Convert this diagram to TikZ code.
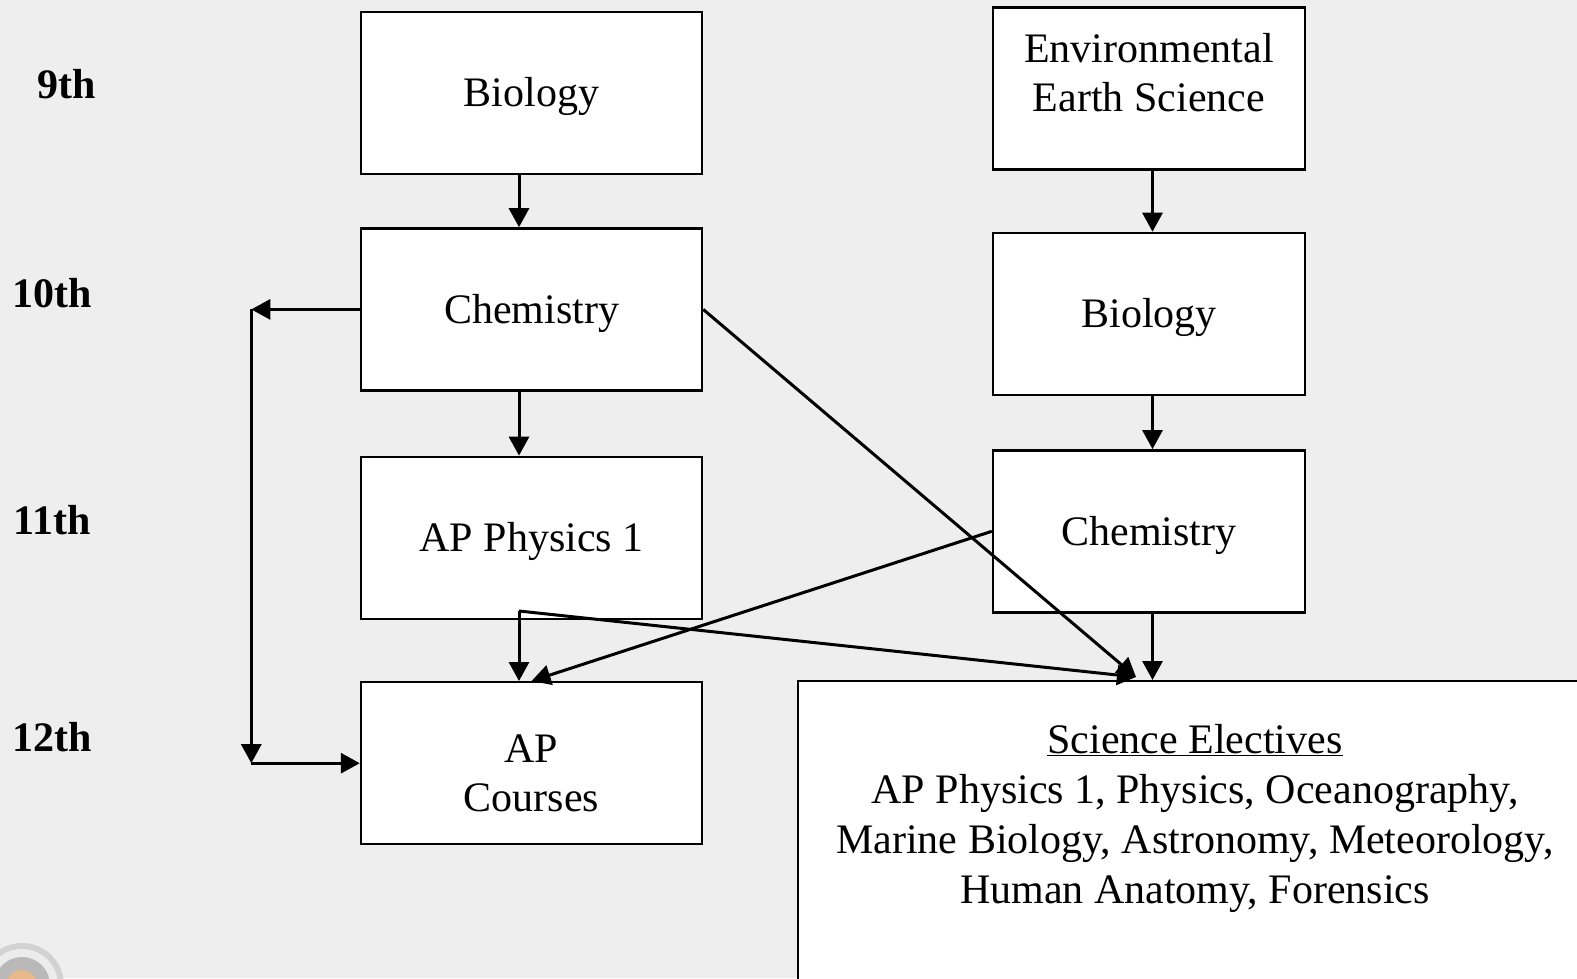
\documentclass[tikz,border=0pt]{standalone}
\usepackage{fontspec}
\setmainfont{Liberation Serif}
\usepackage{xcolor}
\usetikzlibrary{arrows.meta,positioning}

\definecolor{slidebg}{HTML}{EEEEEE}
\definecolor{knob}{HTML}{E8B98A}

\begin{document}
\begin{tikzpicture}[
    x=1pt, y=-1pt,
    box/.style={rectangle, draw, fill=white, line width=2.4pt, minimum width=341pt, minimum height=162pt, align=center, text height=37pt, font=\fontsize{42}{49}\selectfont},
    grade/.style={font=\fontsize{42}{49}\selectfont\bfseries},
    arr/.style={-{Triangle[length=19pt,width=20pt]}, line width=3pt}
]

% slide background
\clip (0,0) rectangle (1577,978);
\fill[slidebg] (0,0) rectangle (1577,978);
\fill[gray!35] (22,985) circle (42pt);
\fill[gray!15] (22,985) circle (36pt);
\fill[gray!55] (22,985) circle (28pt);
\fill[knob] (22,985) circle (15pt);

% Grade labels
\node[grade] (g9) at (67,84) {9th};
\node[grade] (g10) at (52,293) {10th};
\node[grade] (g11) at (52,520) {11th};
\node[grade] (g12) at (52,737) {12th};

% Left sequence
\node[box] (bioA) at (531.5,93) {Biology};
\node[box, below=52pt of bioA] (chemA) {Chemistry};
\node[box, below=64pt of chemA] (apphys) {AP Physics 1};
\node[box, below=61pt of apphys, text height=97pt] (apcourses) {AP\\Courses};

% Right sequence
\node[box, minimum width=312pt, text height=77.7pt, text depth=32pt] (envsci) at (1149,88.5) {Environmental\\Earth Science};
\node[box, minimum width=312pt, below=61pt of envsci] (bioB) {Biology};
\node[box, minimum width=312pt, below=53pt of bioB] (chemB) {Chemistry};

% Electives
\node[box, anchor=north west, minimum width=820pt, minimum height=330pt] (electives) at (797,680) {};
\node[align=center, anchor=north, font=\fontsize{42}{50}\selectfont] (electext) at (1195,721) {\underline{Science Electives}\\AP Physics 1, Physics, Oceanography,\\Marine Biology, Astronomy, Meteorology,\\Human Anatomy, Forensics};

% Junction points
\coordinate (split) at (519,611);
\coordinate (meet) at (1136,677);
\coordinate[left=108.5pt of chemA.west] (looptop);
\coordinate (loopbot) at (looptop |- apcourses.west);

% Arrows
\draw[arr] ([xshift=-12.5pt]bioA.south) -- ([xshift=-12.5pt]chemA.north);
\draw[arr] ([xshift=-12.5pt]chemA.south) -- ([xshift=-12.5pt]apphys.north);
\draw[arr] (split) -- (split |- apcourses.north);
\draw[arr] (split) -- (meet);
\draw[arr] (chemA.east) -- (meet);
\draw[arr] (chemB.west) -- (apcourses.north);
\draw[arr] ([xshift=3.5pt]envsci.south) -- ([xshift=3.5pt]bioB.north);
\draw[arr] ([xshift=3.5pt]bioB.south) -- ([xshift=3.5pt]chemB.north);
\draw[arr] ([xshift=3.5pt]chemB.south) -- ([xshift=3.5pt]chemB.south |- electives.north);
\draw[arr] (chemA.west) -- (looptop);
\draw[arr] (looptop) -- (loopbot);
\draw[arr] (loopbot) -- (apcourses.west);

\end{tikzpicture}
\end{document}
